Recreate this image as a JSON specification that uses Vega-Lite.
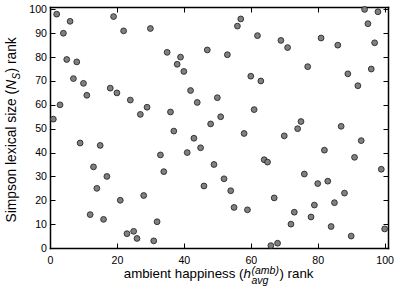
{
  "$schema": "https://vega.github.io/schema/vega-lite/v6.json",
  "width": 338,
  "height": 241,
  "autosize": {"type": "none"},
  "padding": {"left": 50, "top": 7, "right": 11, "bottom": 41},
  "background": "white",
  "data": {"values": [
    {"x":1,"y":54},{"x":2,"y":98},{"x":3,"y":60},{"x":4,"y":90},{"x":5,"y":79},{"x":6,"y":95},{"x":7,"y":71},{"x":8,"y":78},{"x":9,"y":44},{"x":10,"y":69},
    {"x":11,"y":64},{"x":12,"y":14},{"x":13,"y":34},{"x":14,"y":25},{"x":15,"y":43},{"x":16,"y":12},{"x":17,"y":30},{"x":18,"y":67},{"x":19,"y":97},{"x":20,"y":65},
    {"x":21,"y":20},{"x":22,"y":91},{"x":23,"y":6},{"x":24,"y":62},{"x":25,"y":7},{"x":26,"y":4},{"x":27,"y":56},{"x":28,"y":22},{"x":29,"y":59},{"x":30,"y":92},
    {"x":31,"y":3},{"x":32,"y":11},{"x":33,"y":39},{"x":34,"y":32},{"x":35,"y":82},{"x":36,"y":57},{"x":37,"y":49},{"x":38,"y":77},{"x":39,"y":80},{"x":40,"y":74},
    {"x":41,"y":40},{"x":42,"y":66},{"x":43,"y":46},{"x":44,"y":61},{"x":45,"y":42},{"x":46,"y":26},{"x":47,"y":83},{"x":48,"y":52},{"x":49,"y":35},{"x":50,"y":63},
    {"x":51,"y":55},{"x":52,"y":29},{"x":53,"y":81},{"x":54,"y":24},{"x":55,"y":17},{"x":56,"y":93},{"x":57,"y":96},{"x":58,"y":48},{"x":59,"y":16},{"x":60,"y":72},
    {"x":61,"y":58},{"x":62,"y":89},{"x":63,"y":70},{"x":64,"y":37},{"x":65,"y":36},{"x":66,"y":1},{"x":67,"y":21},{"x":68,"y":2},{"x":69,"y":87},{"x":70,"y":47},
    {"x":71,"y":84},{"x":72,"y":10},{"x":73,"y":15},{"x":74,"y":50},{"x":75,"y":53},{"x":76,"y":31},{"x":77,"y":76},{"x":78,"y":13},{"x":79,"y":18},{"x":80,"y":27},
    {"x":81,"y":88},{"x":82,"y":41},{"x":83,"y":28},{"x":84,"y":9},{"x":85,"y":19},{"x":86,"y":85},{"x":87,"y":51},{"x":88,"y":23},{"x":89,"y":73},{"x":90,"y":5},
    {"x":91,"y":38},{"x":92,"y":68},{"x":93,"y":45},{"x":94,"y":100},{"x":95,"y":94},{"x":96,"y":75},{"x":97,"y":86},{"x":98,"y":99},{"x":99,"y":33},{"x":100,"y":8}
  ]},
  "config": {
    "view": {"stroke": null},
    "font": "Liberation Sans",
    "axis": {
      "grid": false,
      "labelFont": "Liberation Sans",
      "labelFontSize": 10.6,
      "labelColor": "black",
      "titleFont": "Liberation Sans",
      "titleFontSize": 13.3,
      "titleFontWeight": "normal",
      "titleColor": "black",
      "domainColor": "black",
      "domainWidth": 1.5,
      "domainCap": "square",
      "tickColor": "black",
      "tickWidth": 1,
      "labelFlush": false,
      "titleBaseline": "alphabetic"
    }
  },
  "layer": [
    {
      "mark": {"type": "circle", "fill": "#808080", "stroke": "#1a1a1a", "strokeWidth": 0.8, "size": 34, "opacity": 1},
      "encoding": {
        "x": {"field": "x", "type": "quantitative", "scale": {"domain": [0, 101], "nice": false},
              "axis": {"orient": "bottom", "values": [0, 20, 40, 60, 80, 100], "tickSize": -5, "labelPadding": 12,
                       "title": "ambient happiness (", "titleX": 193, "titleY": 29, "titleAlign": "right"}},
        "y": {"field": "y", "type": "quantitative", "scale": {"domain": [0, 101], "nice": false},
              "axis": {"orient": "left", "values": [0, 10, 20, 30, 40, 50, 60, 70, 80, 90, 100], "tickSize": -5, "labelPadding": 8.5,
                       "title": "Simpson lexical size (", "titleFontSize": 13.8, "titleAngle": 270, "titleX": -35, "titleY": 82.3, "titleAlign": "right"}}
      }
    },
    {
      "mark": {"type": "circle", "opacity": 0},
      "encoding": {
        "x": {"field": "x", "type": "quantitative",
              "axis": {"orient": "bottom", "labels": false, "ticks": false, "domain": false,
                       "title": "h", "titleFontStyle": "italic", "titleX": 193, "titleY": 29, "titleAlign": "left"}},
        "y": {"field": "y", "type": "quantitative",
              "axis": {"orient": "left", "labels": false, "ticks": false, "domain": false,
                       "title": "N", "titleFontStyle": "italic", "titleFontSize": 13.8, "titleAngle": 270, "titleX": -35, "titleY": 82.3, "titleAlign": "left"}}
      }
    },
    {
      "mark": {"type": "circle", "opacity": 0},
      "encoding": {
        "x": {"field": "x", "type": "quantitative",
              "axis": {"orient": "bottom", "labels": false, "ticks": false, "domain": false,
                       "title": "(amb)", "titleFontStyle": "italic", "titleFontSize": 10.5, "titleX": 201, "titleY": 25, "titleAlign": "left"}},
        "y": {"field": "y", "type": "quantitative",
              "axis": {"orient": "left", "labels": false, "ticks": false, "domain": false,
                       "title": "S", "titleFontStyle": "italic", "titleFontSize": 10, "titleAngle": 270, "titleX": -31, "titleY": 72, "titleAlign": "left"}}
      }
    },
    {
      "mark": {"type": "circle", "opacity": 0},
      "encoding": {
        "x": {"field": "x", "type": "quantitative",
              "axis": {"orient": "bottom", "labels": false, "ticks": false, "domain": false,
                       "title": "avg", "titleFontStyle": "italic", "titleFontSize": 10.5, "titleX": 201, "titleY": 35.5, "titleAlign": "left"}},
        "y": {"field": "y", "type": "quantitative",
              "axis": {"orient": "left", "labels": false, "ticks": false, "domain": false,
                       "title": ") rank", "titleFontSize": 13.8, "titleAngle": 270, "titleX": -35, "titleY": 65, "titleAlign": "left"}}
      }
    },
    {
      "mark": {"type": "circle", "opacity": 0},
      "encoding": {
        "x": {"field": "x", "type": "quantitative",
              "axis": {"orient": "bottom", "labels": false, "ticks": false, "domain": false,
                       "title": ") rank", "titleX": 229, "titleY": 29, "titleAlign": "left"}},
        "y": {"field": "y", "type": "quantitative",
              "axis": {"orient": "right", "labels": false, "tickSize": -5, "values": [0, 10, 20, 30, 40, 50, 60, 70, 80, 90, 100], "title": null}}
      }
    },
    {
      "mark": {"type": "circle", "opacity": 0},
      "encoding": {
        "x": {"field": "x", "type": "quantitative",
              "axis": {"orient": "top", "labels": false, "tickSize": -5, "values": [0, 20, 40, 60, 80, 100], "title": null}},
        "y": {"field": "y", "type": "quantitative", "axis": null}
      }
    }
  ],
  "resolve": {"axis": {"x": "independent", "y": "independent"}}
}
